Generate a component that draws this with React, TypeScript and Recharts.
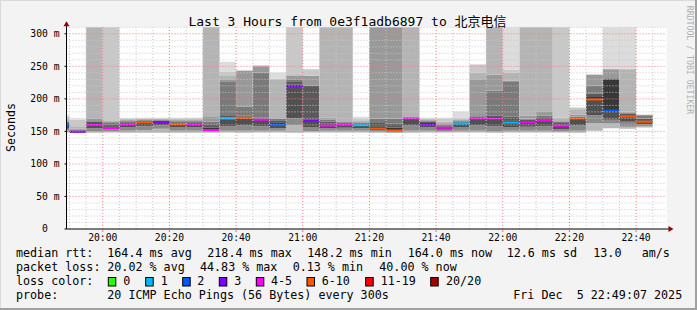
import React from "react";
import {
  ComposedChart,
  Area,
  XAxis,
  YAxis,
  CartesianGrid,
  ReferenceLine,
  ReferenceDot,
} from "recharts";

// ---------- data ----------
const GRAPH_START = "19:49:07";
const GRAPH_END = "22:49:07";
const STEP_MIN = 5;

const INTERVAL_START = [
  "19:45", "19:50", "19:55", "20:00", "20:05", "20:10", "20:15", "20:20", "20:25",
  "20:30", "20:35", "20:40", "20:45", "20:50", "20:55", "21:00", "21:05", "21:10",
  "21:15", "21:20", "21:25", "21:30", "21:35", "21:40", "21:45", "21:50", "21:55",
  "22:00", "22:05", "22:10", "22:15", "22:20", "22:25", "22:30", "22:35", "22:40",
];

// sorted ping ranks (ms) per interval: lowest -> highest
const LO = [148, 147.5, 148, 148.5, 148, 148, 148, 148, 148, 148, 148.5, 148, 148.5, 148.5, 148, 148.5, 148.5, 148.5, 148.5, 148, 147.5, 148, 148.5, 148.5, 148.5, 148.5, 148, 148.5, 148.5, 148.5, 148.5, 148, 151, 155, 154, 156];
const L1 = [151, 148, 150, 150, 151, 152, 154, 151, 151, 149.5, 151, 151, 151, 151, 160, 150.5, 151, 151, 151, 149.5, 148.5, 151, 151, 150, 151, 151, 150, 151, 151, 151, 150, 151, 163, 162, 157, 158];
const L2 = [154, 149, 155, 153, 156, 158, 159, 156, 156, 151, 158, 160, 158, 155, 170, 156, 155, 155.5, 155, 151.5, 150, 160, 156, 152.5, 156, 160, 158, 156, 157, 158, 153, 160, 175, 168, 165, 161];
const MED = [158.5, 149.5, 160.5, 155.4, 161.5, 164, 164, 161.5, 161.5, 152.3, 169.7, 171, 168, 160.5, 219.5, 166.5, 159, 160.5, 159.3, 154.3, 151.3, 169.7, 160.5, 155.5, 162, 170, 170, 163.6, 164, 166.7, 158.7, 169.7, 199, 182, 173, 164.8];
const U1 = [161, 150.5, 163, 158, 163.5, 165.5, 165.5, 163.5, 163.5, 156, 171.5, 172.5, 169.5, 164, 222, 168, 162, 162, 161, 158, 156, 170.5, 163, 157.5, 163.5, 171.5, 172, 167, 166, 168.5, 161, 171, 203, 230, 175, 167];
const U2 = [163, 151.5, 165, 161, 165, 166.5, 166.5, 165, 165, 160, 173.5, 174, 171, 167, 226, 220, 165, 163.5, 162.5, 163, 162, 171, 165, 159.5, 165, 172.5, 174, 173, 168, 170.5, 163, 172, 208, 231, 177, 170];
const U3 = [165, 152.5, 167, 163, 166.5, 167.5, 167.5, 166.5, 166.5, 165, 226, 188, 240, 169, 230, 221, 168, 164.5, 163.5, 170, 170, 171.5, 166.5, 161, 166.5, 173.5, 213, 227, 170, 174, 165, 173, 220, 232, 179, 175];
const U4 = [167, 154, 169, 164.5, 168, 168.5, 168.5, 168, 168, 172, 230, 243, 250, 170.3, 236, 235, 171, 165.5, 164.5, 400, 400, 172, 168, 162.5, 168, 230.3, 237, 228, 174, 180, 167, 176, 237, 245.6, 180.5, 175.3];
const U5 = [169, 158, 400, 166, 169.5, 169.5, 169.5, 169.5, 169.5, 400, 235, 243.5, 251, 230.3, 238, 235.5, 400, 400, 166, 400, 400, 400, 169, 165, 170, 240.5, 400, 240, 400, 400, 171, 184, 237.3, 246, 245.6, 175.5];
const U6 = [172, 168, 400, 400, 170.3, 170.3, 170.3, 170.3, 170.5, 400, 242, 244, 251.5, 231, 400, 245.5, 400, 400, 170, 400, 400, 400, 170, 170, 171.5, 253, 400, 244.6, 400, 400, 400, 186.5, 237.6, 246.5, 246, 175.7];
const HI = [175, 170, 400, 400, 170.5, 170.8, 170.8, 170.8, 171, 400, 257, 244.5, 252, 240.5, 400, 246, 400, 400, 172.5, 400, 400, 400, 170.8, 171, 180.5, 253.5, 400, 400, 400, 400, 400, 187, 238, 400, 400, 176];

// lost pings (of 20) per interval
const LOSS = [2, 3, 5, 4, 5, 7, 3, 6, 4, 5, 1, 7, 4, 2, 3, 3, 5, 4, 1, 8, 9, 5, 3, 4, 1, 5, 4, 1, 5, 4, 5, 7, 6, 2, 7, 8];

const LOSS_LABELS = ["0", "1", "2", "3", "4-5", "6-10", "11-19", "20/20"];
const LOSS_MIN = [0, 1, 2, 3, 4, 6, 11, 20];

const Y_TICKS = [0, 50, 100, 150, 200, 250, 300];
const X_TICK_LABELS = ["20:00", "20:20", "20:40", "21:00", "21:20", "21:40", "22:00", "22:20", "22:40"];

const TITLE = "Last 3 Hours from 0e3f1adb6897 to 北京电信";
const RTT_STATS = ["164.4 ms avg", "218.4 ms max", "148.2 ms min", "164.0 ms now", "12.6 ms sd", "13.0", "am/s"];
const LOSS_STATS = ["20.02 % avg", "44.83 % max", "0.13 % min", "40.00 % now"];
const PROBE = "20 ICMP Echo Pings (56 Bytes) every 300s";
const STAMP = "Fri Dec  5 22:49:07 2025";

// ---------- styles ----------
const LOSS_COLORS = ["#26ff00", "#00b8ff", "#0059ff", "#7e00ff", "#ff00ff", "#ff5500", "#ff0000", "#a10000"];
const BAND_SHADES = ["#b8b8b8", "#8a8a8a", "#505050", "#383838", "#5a5a5a", "#7a7a7a", "#999999", "#b4b4b4", "#c8c8c8", "#dcdcdc"];
const MEDIAN_HALF = 1.55;
const MONO = "'DejaVu Sans Mono', 'Noto Sans CJK SC', monospace";

// ---------- helpers ----------
const toMin = (s: string) => {
  const p = s.split(":").map(Number);
  return p[0] * 60 + p[1] + (p[2] || 0) / 60;
};
const lossClass = (n: number) => {
  let c = 0;
  LOSS_MIN.forEach((m, k) => {
    if (n >= m) c = k;
  });
  return c;
};
const fmtTime = (t: number) => {
  const h = Math.floor(t / 60);
  const m = Math.round(t - h * 60);
  return `${String(h).padStart(2, "0")}:${String(m).padStart(2, "0")}`;
};
const keepSpaces = (s: string) => s.replace(/ /g, "\u00a0");

const BOUNDS = [LO, L1, L2, MED, U1, U2, U3, U4, U5, U6, HI];
const X_MIN = toMin(GRAPH_START);
const X_MAX = toMin(GRAPH_END);

const rows = INTERVAL_START.flatMap((s, i) => [
  { t: toMin(s), i },
  { t: toMin(s) + STEP_MIN, i },
]);

const hMinor: number[] = [];
for (let v = 10; v <= 310; v += 10) if (v % 50 !== 0) hMinor.push(v);
const hMajor = Y_TICKS.filter((v) => v > 0);
const vMajor = X_TICK_LABELS.map(toMin);
const vMinor: number[] = [];
for (let t = Math.ceil(X_MIN / 5) * 5; t < X_MAX; t += 5) if (t % 20 !== 0) vMinor.push(t);

const RightArrow = (p: any) => (
  <g>
    <line x1={p.cx} y1={p.cy} x2={p.cx + 3} y2={p.cy} stroke="#000" />
    <path d={`M${p.cx + 2},${p.cy - 3} L${p.cx + 7},${p.cy} L${p.cx + 2},${p.cy + 3} Z`} fill="#990000" />
  </g>
);
const TopArrow = (p: any) => (
  <g>
    <line x1={p.cx} y1={p.cy} x2={p.cx} y2={p.cy - 3} stroke="#000" />
    <path d={`M${p.cx - 3},${p.cy - 1} L${p.cx},${p.cy - 6} L${p.cx + 3},${p.cy - 1} Z`} fill="#990000" />
  </g>
);

const LEG_FONT = 11.7;
const boxX = [108.3, 145.7, 182.7, 219.3, 256.3, 307, 365.7, 430.7];
const boxLabelX = [123.3, 160.7, 197.3, 234.3, 271, 321.7, 380.7, 446];
const rttX = [107.3, 207.3, 307.3, 407.7, 506.7, 593.3, 641.7];
const lossX = [107.3, 200, 292.7, 379.3];

export default function App() {
  return (
    <div
      style={{
        position: "absolute",
        left: 0,
        top: 0,
        width: 697,
        height: 310,
        background: "#f3f3f3",
        overflow: "hidden",
      }}
    >
      <ComposedChart
        width={697}
        height={310}
        data={rows}
        margin={{ top: 27.3, right: 30.5, bottom: 61, left: 0 }}
      >
        <CartesianGrid horizontal={false} vertical={false} fill="#ffffff" />
        <XAxis
          dataKey="t"
          type="number"
          domain={[X_MIN, X_MAX]}
          allowDataOverflow
          ticks={vMajor}
          interval={0}
          tickFormatter={(t: number) => fmtTime(t)}
          height={20}
          tickSize={3}
          tickMargin={2}
          axisLine={{ stroke: "#000" }}
          tickLine={{ stroke: "#e07070" }}
          tick={{ fontSize: 9.7, fontFamily: MONO, fill: "#000" }}
        />
        <YAxis
          type="number"
          domain={[0, 310]}
          allowDataOverflow
          ticks={Y_TICKS}
          interval={0}
          width={66.5}
          tickSize={2}
          tickMargin={5}
          tickFormatter={(v: number) => (v === 0 ? "0\u00a0\u00a0" : `${v} m`)}
          axisLine={{ stroke: "#000" }}
          tickLine={{ stroke: "#000" }}
          tick={{ fontSize: 9.7, fontFamily: MONO, fill: "#000" }}
        />
        {BAND_SHADES.map((fill, k) => (
          <Area
            key={`band${k}`}
            dataKey={(r: any) => [BOUNDS[k][r.i], BOUNDS[k + 1][r.i]]}
            type="linear"
            stroke="none"
            fill={fill}
            fillOpacity={1}
            isAnimationActive={false}
            dot={false}
            activeDot={false}
          />
        ))}
        {LOSS_LABELS.map((lab, c) => (
          <Area
            key={`med${lab}`}
            dataKey={(r: any) =>
              lossClass(LOSS[r.i]) === c ? [MED[r.i] - MEDIAN_HALF, MED[r.i] + MEDIAN_HALF] : null
            }
            type="linear"
            stroke="none"
            fill={LOSS_COLORS[c]}
            fillOpacity={1}
            isAnimationActive={false}
            dot={false}
            activeDot={false}
          />
        ))}
        {hMinor.map((v) => (
          <ReferenceLine key={`hm${v}`} y={v} stroke="#c8c8c8" strokeDasharray="1 2" />
        ))}
        {vMinor.map((t) => (
          <ReferenceLine key={`vm${t}`} x={t} stroke="#c8c8c8" strokeDasharray="1 2" />
        ))}
        {hMajor.map((v) => (
          <ReferenceLine key={`hM${v}`} y={v} stroke="#f08080" strokeDasharray="1 2" />
        ))}
        {vMajor.map((t) => (
          <ReferenceLine key={`vM${t}`} x={t} stroke="#f08080" strokeDasharray="1 2" />
        ))}
        <ReferenceDot x={X_MAX} y={0} r={0} ifOverflow="visible" shape={(p: any) => <RightArrow {...p} />} />
        <ReferenceDot x={X_MIN} y={310} r={0} ifOverflow="visible" shape={(p: any) => <TopArrow {...p} />} />
      </ComposedChart>

      <svg
        width={697}
        height={310}
        style={{ position: "absolute", left: 0, top: 0, pointerEvents: "none" }}
      >
        <rect x={0} y={0} width={697} height={1} fill="#dadada" />
        <rect x={0} y={0} width={1} height={310} fill="#dadada" />
        <rect x={695} y={0} width={2} height={310} fill="#a0a0a0" />
        <rect x={0} y={308} width={697} height={2} fill="#a0a0a0" />

        <text x={347.5} y={26} textAnchor="middle" fontFamily={MONO} fontSize={13} fill="#000">
          {TITLE}
        </text>
        <text
          transform="translate(15,127.5) rotate(-90)"
          textAnchor="middle"
          fontFamily={MONO}
          fontSize={11.6}
          fill="#000"
        >
          Seconds
        </text>
        <text
          transform="translate(686.5,60) rotate(90)"
          textAnchor="middle"
          fontFamily={MONO}
          fontSize={8.2}
          fill="#b0b0b0"
        >
          RRDTOOL / TOBI OETIKER
        </text>

        <g fontFamily={MONO} fontSize={LEG_FONT} fill="#000">
          <text x={16} y={257}>median rtt:</text>
          {RTT_STATS.map((s, k) => (
            <text key={`r${k}`} x={rttX[k]} y={257}>{keepSpaces(s)}</text>
          ))}
          <text x={16} y={271}>packet loss:</text>
          {LOSS_STATS.map((s, k) => (
            <text key={`l${k}`} x={lossX[k]} y={271}>{keepSpaces(s)}</text>
          ))}
          <text x={16} y={285}>loss color:</text>
          {LOSS_LABELS.map((lab, k) => (
            <g key={`b${k}`}>
              <rect x={boxX[k]} y={277.5} width={7.5} height={8.5} fill={LOSS_COLORS[k]} stroke="#000" strokeWidth={1} />
              <text x={boxLabelX[k]} y={285}>{lab}</text>
            </g>
          ))}
          <text x={16} y={299}>probe:</text>
          <text x={107.3} y={299}>{keepSpaces(PROBE)}</text>
          <text x={513.3} y={299}>{keepSpaces(STAMP)}</text>
        </g>
      </svg>
    </div>
  );
}
